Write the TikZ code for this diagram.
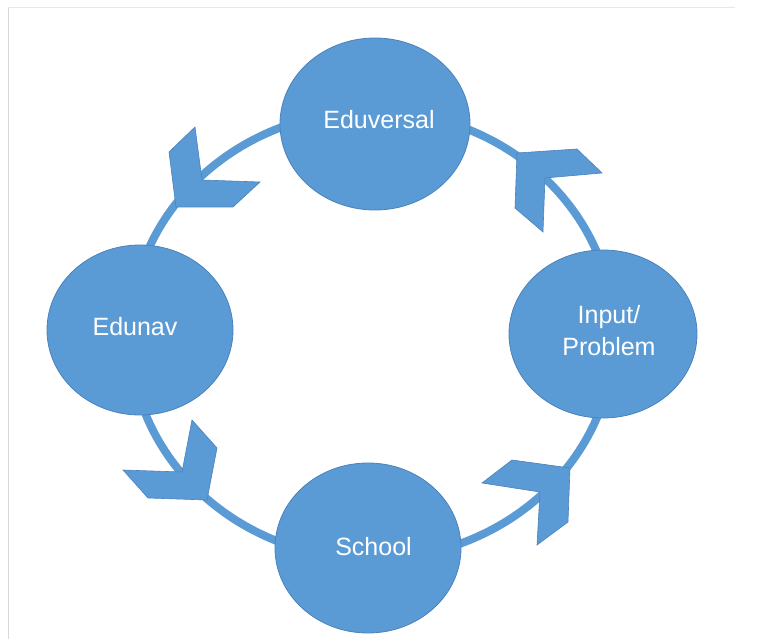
\documentclass[tikz,border=0pt]{standalone}
\usepackage{fontspec}
\setmainfont{Liberation Sans}
\usetikzlibrary{shapes.geometric}
\definecolor{cblue}{HTML}{5B9BD5}
\definecolor{cedge}{HTML}{4A82BC}
\tikzset{
  ell/.style={ellipse, fill=cblue, draw=cedge, line width=0.8pt, inner sep=0pt},
  txt/.style={text=white, align=center, font=\fontsize{25}{32}\selectfont},
  chev/.style={fill=cblue, draw=cedge, line width=0.6pt, line join=miter},
  ring/.style={draw=cblue, line width=8pt}
}
\begin{document}
\begin{tikzpicture}[x=1pt,y=-1pt]
\useasboundingbox (0,0) rectangle (764,639);
\fill[white] (0,0) rectangle (764,639);
\draw[gray!18, line width=1pt] (8,8) -- (735,8);
\draw[gray!30, line width=1pt] (8,8) -- (8,639);
% ring
\draw[ring] (372,335) ellipse [x radius=242pt, y radius=224pt];
% chevrons
\path[chev] (195,127) -- (202,180) -- (260,182) -- (233,207) -- (176,207) -- (169,152) -- cycle;
\path[chev] (517,153) -- (577,149) -- (602,173) -- (545,178) -- (543,232) -- (515,208) -- cycle;
\path[chev] (192,420) -- (217,448) -- (207,500) -- (148,498) -- (123,470) -- (182,472) -- cycle;
\path[chev] (512,460) -- (570,468) -- (568,522) -- (537,545) -- (540,492) -- (482,483) -- cycle;
% nodes
\node[ell, minimum width=190pt, minimum height=172pt,
  label={[txt, xshift=4pt, yshift=4pt]center:Eduversal}] (eduversal) at (375,124) {};
\node[ell, minimum width=186pt, minimum height=170pt,
  label={[txt, xshift=-5pt, yshift=3pt]center:Edunav}] (edunav) at (140,330) {};
\node[ell, minimum width=188pt, minimum height=168pt,
  label={[txt, xshift=6pt, yshift=3pt]center:Input/\\Problem}] (input) at (603,334) {};
\node[ell, minimum width=186pt, minimum height=170pt,
  label={[txt, xshift=5.5pt, yshift=1pt]center:School}] (school) at (368,548) {};
\end{tikzpicture}
\end{document}
